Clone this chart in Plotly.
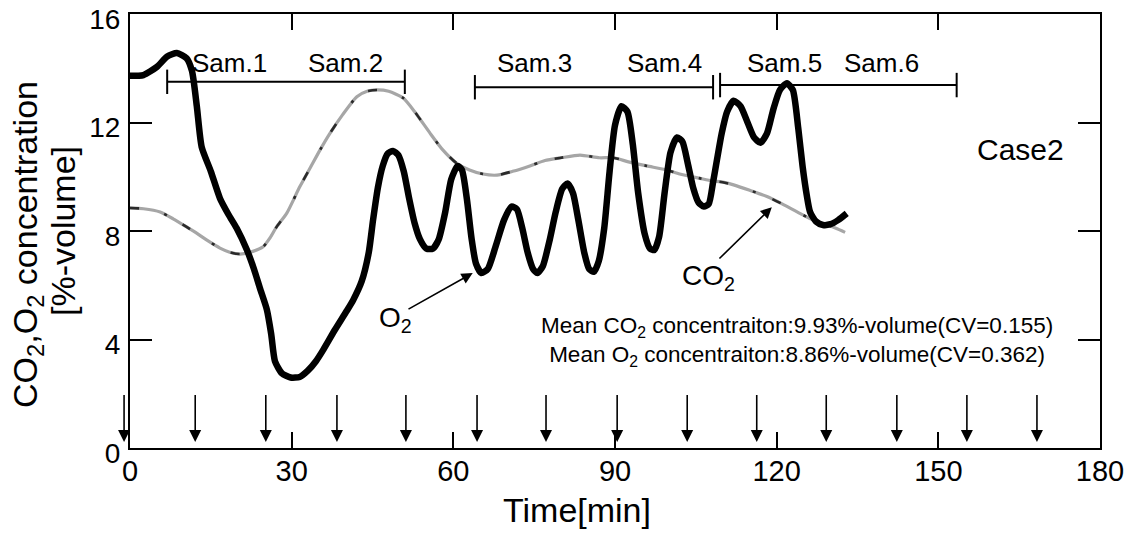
import plotly.graph_objects as go

# ---------------- data ----------------
o2_t = [0, 2.5, 5, 6.9, 8.7, 10.5, 11.5, 12.4, 13.3, 15, 16.7, 18.3, 19.8, 21.7, 23, 24.1, 25.4, 26.2, 26.9,
        28.2, 29.8, 31.5, 33, 34.5, 35.8, 38, 40.2, 41.4, 43, 44.3, 45.1, 46, 46.9, 47.8, 48.8, 49.8, 50.8,
        51.8, 52.8, 53.8, 55, 56.2, 57.3, 58.5, 59.6, 60.8, 61.6, 62.5, 63.4, 64.2, 65.2, 66.4, 67.8, 69.4,
        70.8, 71.8, 72.8, 73.8, 74.8, 75.6, 76.6, 77.8, 79, 80.2, 81.2, 82.2, 83.2, 84.3, 85.2, 86.1, 87,
        88, 89, 90, 91.2, 92.3, 93.3, 94.3, 95.5, 96.5, 97.3, 98.2, 99.2, 100.3, 101.5, 102.5, 103.5, 104.5,
        105.5, 106.5, 107.4, 108.2, 108.9, 109.8, 110.8, 112, 113.3, 114.6, 115.8, 117, 118.2, 119.4,
        120.6, 121.9, 123, 124, 124.8, 125.6, 126.2, 127.3, 128.6, 130, 131.4, 133]
o2_v = [13.72, 13.75, 14.05, 14.43, 14.56, 14.37, 13.9, 12.6, 11.1, 10.2, 9.2, 8.6, 8.1, 7.3, 6.6, 5.9,
        5.1, 4.2, 3.2, 2.75, 2.6, 2.62, 2.85, 3.2, 3.6, 4.35, 5.05, 5.45, 6.15, 7.2, 8.4, 9.6, 10.4, 10.85,
        10.95, 10.8, 10.2, 9.2, 8.3, 7.7, 7.35, 7.35, 7.7, 8.7, 9.9, 10.4, 10.25, 9.2, 7.7, 6.8, 6.45,
        6.6, 7.4, 8.4, 8.9, 8.8, 8.1, 7.2, 6.6, 6.45, 6.7, 7.6, 8.7, 9.55, 9.75, 9.4, 8.4, 7.2, 6.6, 6.5,
        6.9, 8.1, 10.2, 11.9, 12.6, 12.4, 11.2, 9.4, 7.9, 7.35, 7.3, 7.8, 9.4, 10.9, 11.45, 11.3, 10.5,
        9.6, 9.05, 8.9, 9.0, 9.8, 10.6, 11.6, 12.4, 12.8, 12.6, 12.0, 11.45, 11.25, 11.6, 12.5, 13.2,
        13.45, 13.2, 11.8, 10.4, 9.3, 8.7, 8.35, 8.22, 8.25, 8.4, 8.65]

co2_t = [0, 2.5, 5.6, 8, 10.5, 12.5, 14.2, 16.7, 18.5, 20.4, 22.3, 24.7, 26, 27.2, 29.1, 31.5, 33.5,
         35.3, 37.1, 39.5, 42.1, 44, 45.8, 48, 50.7, 53, 55.7, 58, 60.6, 63, 65.5, 68.1, 71, 74.2, 77,
         80, 83.5, 87.1, 89.7, 92.5, 95.9, 99.6, 102, 105.8, 108, 110, 112, 115, 118.2, 121, 124.3, 126.8,
         128.2, 129.6, 131, 132.7]
co2_v = [8.85, 8.82, 8.7, 8.45, 8.15, 7.9, 7.67, 7.37, 7.22, 7.15, 7.22, 7.42, 7.75, 8.15, 8.66, 9.63,
         10.35, 11.0, 11.6, 12.3, 12.95, 13.15, 13.2, 13.15, 12.9, 12.35, 11.6, 11.0, 10.5, 10.25, 10.1,
         10.06, 10.2, 10.4, 10.6, 10.7, 10.8, 10.7, 10.7, 10.55, 10.4, 10.25, 10.1, 9.94, 9.85, 9.8,
         9.7, 9.5, 9.27, 9.0, 8.65, 8.4, 8.28, 8.2, 8.1, 7.95]

sample_start = [6.9, 64.0, 109.5]
sample_end = [51.0, 108.2, 153.4]
sample_y = [13.5, 13.3, 13.38]
sample_cap = 0.45

sample_names = ["Sam.1", "Sam.2", "Sam.3", "Sam.4", "Sam.5", "Sam.6"]
sample_label_x = [18.5, 39.9, 75.1, 99.1, 121.4, 139.5]
sample_label_y = 14.2

arrow_x = [-1.1, 12.1, 25.2, 38.4, 51.2, 64.4, 77.2, 90.4, 103.4, 116.3, 129.2, 142.3, 155.3, 168.3]
arrow_top = 1.70
arrow_tip = 0.22

x_ticks = [0, 30, 60, 90, 120, 150, 180]
y_ticks = [0, 4, 8, 12, 16]

mean_text = ("Mean CO<sub>2</sub> concentraiton:9.93%-volume(CV=0.155)<br>"
             "Mean O<sub>2</sub> concentraiton:8.86%-volume(CV=0.362)")

FONT = "Liberation Sans, Arial, sans-serif"

# layout geometry (pixels)
W, H = 1139, 533
ML, MR, MT, MB = 110, 39, 14, 85
AXIS_LEFT_PX = 130
PW = W - ML - MR
x_dom0 = (AXIS_LEFT_PX - ML) / PW
x2_lo = -(AXIS_LEFT_PX - ML) * 180.0 / (PW - (AXIS_LEFT_PX - ML))


def px_to_paper_x(px):
    return (px - ML) / PW


fig = go.Figure()

# CO2 (grey, speckled line)
fig.add_trace(go.Scatter(x=co2_t, y=co2_v, mode="lines",
                         line=dict(color="#a6a6a6", width=3.2, shape="spline", smoothing=0.6),
                         hoverinfo="skip", showlegend=False))
fig.add_trace(go.Scatter(x=co2_t, y=co2_v, mode="lines",
                         line=dict(color="#2a2a2a", width=2.6, shape="spline", smoothing=0.6,
                                   dash="9px,26px,3px,18px"),
                         hoverinfo="skip", showlegend=False))

# O2 (thick black)
fig.add_trace(go.Scatter(x=o2_t, y=o2_v, mode="lines",
                         line=dict(color="black", width=6.5, shape="spline", smoothing=0.6),
                         hoverinfo="skip", showlegend=False))

# sampling period bars
bx, by = [], []
for s, e, yy in zip(sample_start, sample_end, sample_y):
    bx += [s, e, None, s, s, None, e, e, None]
    by += [yy, yy, None, yy - sample_cap, yy + sample_cap, None, yy - sample_cap, yy + sample_cap, None]
fig.add_trace(go.Scatter(x=bx, y=by, mode="lines", line=dict(color="black", width=2),
                         hoverinfo="skip", showlegend=False))

# sampling arrows (shaft + head) on a wider hidden x-axis so the first one at x<0 is kept
shaft_mid = (arrow_top + 0.66) / 2
fig.add_trace(go.Scatter(x=arrow_x, y=[shaft_mid] * len(arrow_x), mode="markers", xaxis="x2", yaxis="y",
                         marker=dict(symbol="line-ns", size=30, line=dict(color="black", width=1.6)),
                         cliponaxis=False, hoverinfo="skip", showlegend=False))
fig.add_trace(go.Scatter(x=arrow_x, y=[arrow_tip] * len(arrow_x), mode="markers", xaxis="x2", yaxis="y",
                         marker=dict(symbol="arrow-down", size=12, color="black"),
                         cliponaxis=False, hoverinfo="skip", showlegend=False))

ann = []
for name, lx in zip(sample_names, sample_label_x):
    ann.append(dict(x=lx, y=sample_label_y, xref="x", yref="y", text=name, showarrow=False,
                    font=dict(size=26, color="black", family=FONT)))
ann.append(dict(x=165.3, y=11.0, xref="x", yref="y", text="Case2", showarrow=False,
                font=dict(size=30, color="black", family=FONT)))
ann.append(dict(x=49.2, y=4.72, xref="x", yref="y", text="O<sub>2</sub>", showarrow=False,
                font=dict(size=28, color="black", family=FONT)))
ann.append(dict(x=107.4, y=6.3, xref="x", yref="y", text="CO<sub>2</sub>", showarrow=False,
                font=dict(size=28, color="black", family=FONT)))
ann.append(dict(x=63.6, y=6.45, ax=51.4, ay=5.09, xref="x", yref="y", axref="x", ayref="y",
                text="", showarrow=True, arrowhead=2, arrowsize=1.4, arrowwidth=1.6, arrowcolor="black"))
ann.append(dict(x=119.1, y=8.88, ax=109.1, ay=6.93, xref="x", yref="y", axref="x", ayref="y",
                text="", showarrow=True, arrowhead=2, arrowsize=1.4, arrowwidth=1.6, arrowcolor="black"))
ann.append(dict(x=123.8, y=3.93, xref="x", yref="y", text=mean_text, showarrow=False, align="center",
                xanchor="center", yanchor="middle", font=dict(size=22.5, color="black", family=FONT)))
# axis titles
ann.append(dict(x=px_to_paper_x(577), y=-0.143, xref="paper", yref="paper", text="Time[min]",
                showarrow=False, xanchor="center", yanchor="middle",
                font=dict(size=34, color="black", family=FONT)))
ann.append(dict(x=px_to_paper_x(27), y=0.4677, xref="paper", yref="paper",
                text="CO<sub>2</sub>,O<sub>2</sub> concentration",
                showarrow=False, textangle=-90, xanchor="center", yanchor="middle",
                font=dict(size=34, color="black", family=FONT)))
ann.append(dict(x=px_to_paper_x(63), y=0.5, xref="paper", yref="paper", text="[%-volume]",
                showarrow=False, textangle=-90, xanchor="center", yanchor="middle",
                font=dict(size=34, color="black", family=FONT)))

fig.update_layout(
    width=W, height=H,
    margin=dict(l=ML, r=MR, t=MT, b=MB, autoexpand=False),
    paper_bgcolor="white", plot_bgcolor="rgba(0,0,0,0)",
    annotations=ann,
    font=dict(family=FONT, color="black"),
    xaxis=dict(domain=[x_dom0, 1], range=[0, 180], tickvals=x_ticks, ticks="inside", ticklen=16,
               tickwidth=2, tickcolor="black", showline=True, linecolor="black", linewidth=2,
               mirror="ticks", showgrid=False, zeroline=False, ticklabeloverflow="allow",
               automargin=False,
               tickfont=dict(size=29, family=FONT, color="black"), ticklabelstandoff=-4),
    xaxis2=dict(domain=[0, 1], range=[x2_lo, 180], anchor="y", visible=False, showgrid=False,
                zeroline=False, automargin=False),
    yaxis=dict(range=[0, 16.0], tickvals=y_ticks, ticks="inside", ticklen=22, tickwidth=2,
               tickcolor="black", showline=True, linecolor="black", linewidth=2, mirror="ticks",
               showgrid=False, zeroline=False, ticklabeloverflow="allow", automargin=False,
               tickfont=dict(size=28, family=FONT, color="black"),
               ticklabelstandoff=2, ticklabelshift=5, anchor="x"),
)

fig.write_html("out.html")
